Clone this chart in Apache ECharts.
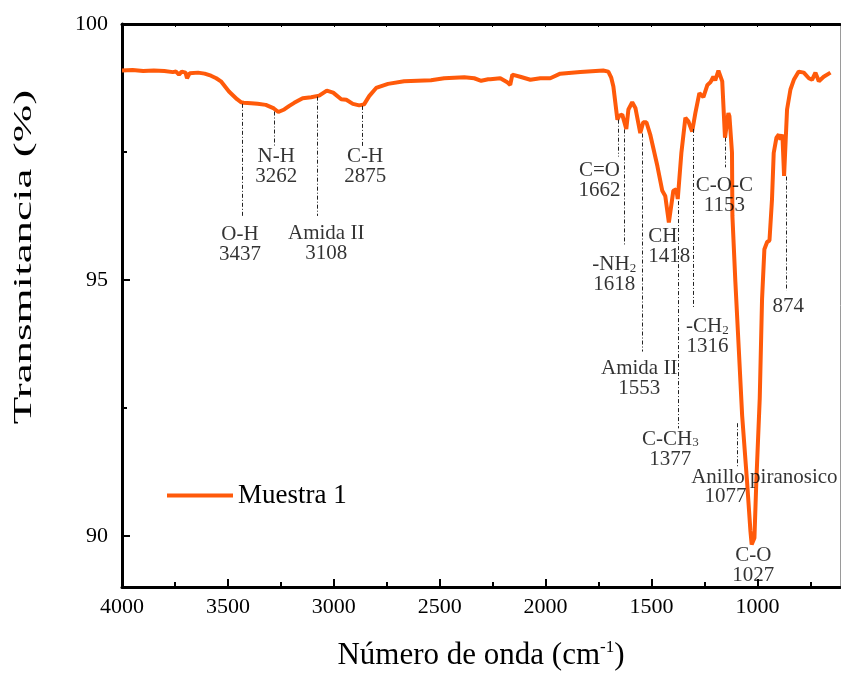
<!DOCTYPE html>
<html>
<head>
<meta charset="utf-8">
<script src="https://cdn.jsdelivr.net/npm/echarts@6/dist/echarts.min.js"></script>
<style>
  html, body { margin: 0; padding: 0; background: #fff; }
  #chart { width: 841px; height: 678px; }
</style>
</head>
<body>
<div id="chart"></div>
<script>
// FTIR spectrum (Muestra 1)
const wavenumber = [
  4000, 3950, 3900, 3850, 3800, 3760, 3745, 3731, 3718, 3700, 3693, 3680, 3674, 3641, 3610, 3580, 3555, 3533,
  3495, 3457, 3437, 3426, 3390, 3360, 3321, 3283, 3262, 3234, 3210, 3187, 3147, 3107, 3069, 3033, 3003, 2965,
  2941, 2910, 2880, 2857, 2833, 2800, 2744, 2668, 2541, 2479, 2384, 2337, 2304, 2271, 2261, 2214, 2181, 2167,
  2157, 2120, 2072, 2025, 1978, 1931, 1836, 1728, 1704, 1690, 1680, 1661, 1652, 1638, 1619, 1609, 1591, 1576,
  1553, 1539, 1524, 1506, 1472, 1449, 1435, 1418, 1397, 1383, 1376, 1359, 1340, 1326, 1308, 1293, 1274, 1255,
  1236, 1222, 1208, 1199, 1184, 1166, 1153, 1137, 1132, 1120, 1118, 1104, 1088, 1072, 1049, 1033, 1027, 1014,
  1005, 989, 978, 967, 954, 943, 931, 923, 910, 899, 891, 882, 874, 860, 844, 828, 805, 781, 757, 742, 726, 710,
  687, 655
];
const transmittance = [
  99.09, 99.10, 99.08, 99.09, 99.08, 99.06, 99.07, 99.01, 99.07, 99.05, 98.94, 99.04, 99.06, 99.05, 99.03, 98.99, 98.94, 98.88,
  98.68, 98.53, 98.47, 98.46, 98.45, 98.44, 98.42, 98.35, 98.28, 98.33, 98.40, 98.46, 98.55, 98.57, 98.60, 98.70, 98.66, 98.53,
  98.52, 98.44, 98.41, 98.43, 98.59, 98.75, 98.83, 98.88, 98.90, 98.94, 98.96, 98.94, 98.89, 98.92, 98.92, 98.94, 98.86, 98.81,
  99.01, 98.97, 98.91, 98.94, 98.94, 99.03, 99.06, 99.09, 99.07, 98.95, 98.78, 98.13, 98.21, 98.23, 97.95, 98.33, 98.47, 98.36,
  97.87, 98.08, 98.08, 97.84, 97.22, 96.74, 96.64, 96.12, 96.74, 96.77, 96.58, 97.48, 98.17, 98.10, 97.90, 98.26, 98.65, 98.57,
  98.81, 98.86, 98.97, 98.90, 99.09, 98.88, 97.78, 98.26, 98.20, 97.49, 96.25, 94.96, 93.66, 92.35, 91.07, 90.10, 89.83, 89.96,
  91.07, 92.68, 94.63, 95.60, 95.74, 95.77, 96.58, 97.48, 97.78, 97.84, 97.74, 97.84, 97.03, 98.33, 98.72, 98.91, 99.07, 99.05, 98.94, 98.91, 99.05, 98.88,
  98.97, 99.05
];

const xMajorTicks = [4000, 3500, 3000, 2500, 2000, 1500, 1000];
const xMinorTicks = [3750, 3250, 2750, 2250, 1750, 1250, 750];
const xTopTicks = [3750, 3500, 3250, 3000, 2750, 2500, 2250, 2000, 1750, 1500, 1250, 1000, 750];
const yMajorTicks = [90, 95, 100];
const yMinorTicks = [92.5, 97.5];

// band assignments: text shown next to the spectrum
const bandText = [
  'O-H\n3437', 'N-H\n3262', 'Amida II\n3108', 'C-H\n2875', 'C=O\n1662', '-NH{s|2}\n1618', 'Amida II\n1553',
  'CH\n1418', 'C-CH{s|3}\n1377', '-CH{s|2}\n1316', 'C-O-C\n1153', 'Anillo piranosico', '1077', 'C-O\n1027', '874'
];
// where each text sits (wavenumber, transmittance)
const bandTextWn = [3443, 3272, 3036, 2852, 1746, 1676, 1558, 1515, 1411, 1236, 1156, 967, 1151, 1019, 854];
const bandTextT = [95.70, 97.21, 95.72, 97.21, 96.95, 95.10, 93.07, 95.66, 91.69, 93.89, 96.65, 91.13, 90.76, 89.42, 94.49];
// dash-dot drop lines
const dropWn = [3433, 3280, 3080, 2866, 1657, 1628, 1546, 1373, 1302, 1151, 1096, 866];
const dropTop = [98.44, 98.29, 98.58, 98.40, 98.13, 97.94, 97.86, 96.54, 97.95, 97.78, 92.20, 97.02];
const dropBottom = [96.25, 97.59, 96.25, 97.61, 97.41, 95.66, 93.60, 92.10, 94.47, 97.20, 91.36, 94.79];

const FONT = 'Liberation Serif';
const ORANGE = '#FF5A0A';
const X_MIN = 610, X_MAX = 4000, Y_MIN = 89, Y_MAX = 100;

const spectrum = wavenumber.map((w, i) => [w, transmittance[i]]);
const dropLines = dropWn.map((w, i) => [{ coord: [w, dropTop[i]] }, { coord: [w, dropBottom[i]] }]);
const bandLabels = bandText.map((t, i) => ({
  value: [bandTextWn[i], bandTextT[i]],
  label: { formatter: t, align: t.indexOf('CH\n1418') === 0 ? 'left' : 'center' }
}));

function xAxisBase(extra) {
  return Object.assign({
    type: 'value', inverse: true, min: X_MIN, max: X_MAX,
    splitLine: { show: false }
  }, extra);
}
function yAxisBase(extra) {
  return Object.assign({
    type: 'value', min: Y_MIN, max: Y_MAX,
    splitLine: { show: false }
  }, extra);
}

const chart = echarts.init(document.getElementById('chart'));
chart.setOption({
  animation: false,
  textStyle: { fontFamily: FONT, color: '#000' },
  grid: { left: 122, right: 1, top: 24, bottom: 88 },
  legend: {
    left: 162, top: 477,
    icon: 'rect',
    itemWidth: 66, itemHeight: 4, itemGap: 10,
    textStyle: { fontFamily: FONT, fontSize: 27, color: '#000' },
    data: ['Muestra 1']
  },
  xAxis: [
    xAxisBase({
      position: 'bottom',
      axisLine: { lineStyle: { color: '#000', width: 3 } },
      axisTick: { inside: true, length: 8, lineStyle: { color: '#000', width: 2 }, customValues: xMajorTicks },
      axisLabel: {
        customValues: xMajorTicks, formatter: v => String(v),
        fontSize: 22, fontFamily: FONT, color: '#000', margin: 9
      },
      name: 'Número de onda (cm{sup|-1})',
      nameLocation: 'middle', nameGap: 52,
      nameTextStyle: {
        fontFamily: FONT, fontSize: 31, color: '#000', lineHeight: 34,
        rich: { sup: { fontFamily: FONT, fontSize: 17, lineHeight: 12, verticalAlign: 'top', color: '#000' } }
      }
    }),
    xAxisBase({
      position: 'bottom',
      axisLine: { show: false },
      axisTick: { inside: true, length: 5, lineStyle: { color: '#000', width: 2 }, customValues: xMinorTicks },
      axisLabel: { show: false }
    }),
    xAxisBase({
      position: 'top',
      axisLine: { lineStyle: { color: '#000', width: 3 } },
      axisTick: { inside: true, length: 3, lineStyle: { color: '#000', width: 1 }, customValues: xTopTicks },
      axisLabel: { show: false }
    })
  ],
  yAxis: [
    yAxisBase({
      position: 'left',
      axisLine: { lineStyle: { color: '#000', width: 3 } },
      axisTick: { inside: true, length: 8, lineStyle: { color: '#000', width: 2 }, customValues: yMajorTicks },
      axisLabel: {
        customValues: yMajorTicks, formatter: v => String(v),
        fontSize: 22, fontFamily: FONT, color: '#000', margin: 14
      }
    }),
    yAxisBase({
      position: 'left',
      axisLine: { show: false },
      axisTick: { inside: true, length: 5, lineStyle: { color: '#000', width: 2 }, customValues: yMinorTicks },
      axisLabel: { show: false }
    }),
    yAxisBase({
      position: 'right',
      axisLine: { lineStyle: { color: '#9a9a9a', width: 1 } },
      axisTick: { show: false },
      axisLabel: { show: false }
    })
  ],
  graphic: [{
    type: 'text',
    x: 24, y: 257,
    rotation: Math.PI / 2,
    scaleX: 1.8,
    style: {
      text: 'Transmitancia (%)',
      fontFamily: FONT, fontSize: 25, fill: '#000',
      align: 'center', verticalAlign: 'middle'
    }
  }],
  series: [
    {
      name: 'Muestra 1',
      type: 'line',
      data: spectrum,
      symbol: 'none',
      lineStyle: { color: ORANGE, width: 4 },
      itemStyle: { color: ORANGE },
      z: 3,
      markLine: {
        silent: true,
        symbol: 'none',
        label: { show: false },
        lineStyle: { color: '#222', width: 1, type: [4, 2, 1, 2] },
        data: dropLines
      }
    },
    {
      name: 'bands',
      type: 'scatter',
      symbolSize: 0,
      silent: true,
      z: 5,
      data: bandLabels,
      label: {
        show: true,
        position: 'inside',
        verticalAlign: 'middle',
        fontFamily: FONT, fontSize: 21, lineHeight: 20, color: '#000',
        rich: { s: { fontFamily: FONT, fontSize: 13, lineHeight: 6, verticalAlign: 'bottom', color: '#000' } }
      }
    }
  ]
});
</script>
</body>
</html>
